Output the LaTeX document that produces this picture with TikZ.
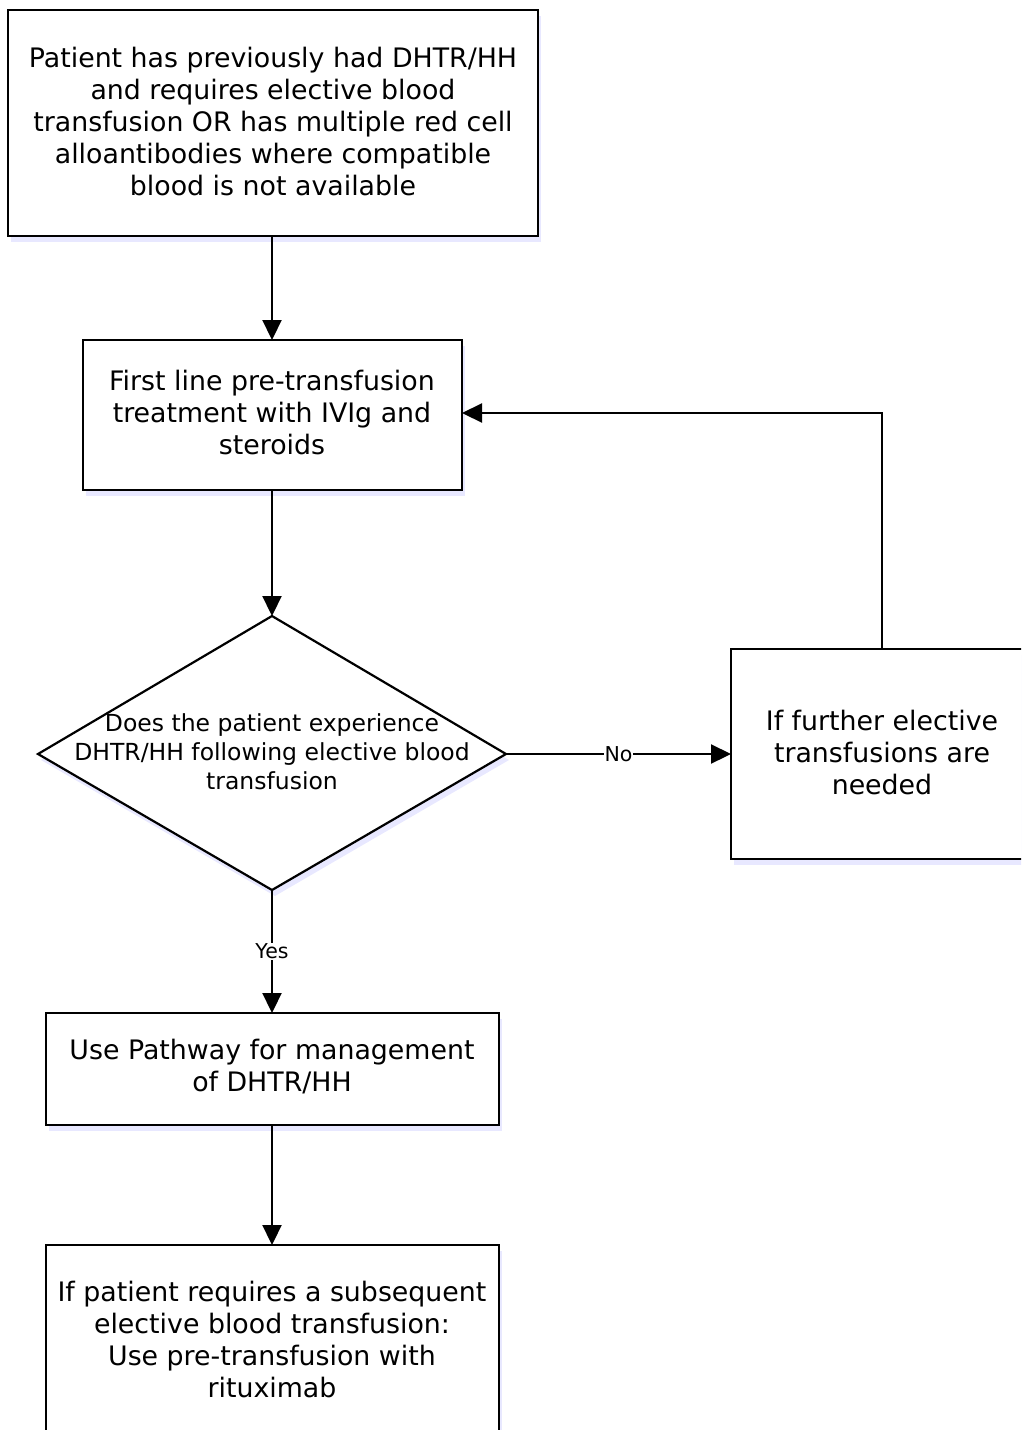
\documentclass[tikz,border=0pt]{standalone}
\usepackage{fontspec}
\setmainfont{DejaVu Sans}
\usetikzlibrary{arrows.meta,shapes.geometric,shadows}
\begin{document}
\begin{tikzpicture}[x=1pt,y=-1pt,
  boxtxt/.style={font=\fontsize{26.8}{32}\selectfont, align=center},
  flowbox/.style={draw=black, line width=2.2pt, fill=white,
     drop shadow={shadow xshift=3pt, shadow yshift=-6pt, fill=blue!20!white, opacity=0.45}},
  conn/.style={line width=2.2pt, -{Triangle[length=20pt,width=19pt]}},
  lbl/.style={font=\fontsize{20.5}{22}\selectfont, fill=white, inner sep=1pt}
]
\useasboundingbox (0,0) rectangle (1021,1430);
\clip (0,0) rectangle (1021,1430);

% shapes
\draw[flowbox] (8,10) rectangle (538,236);
\node[boxtxt] (t1) at (273,122) {Patient has previously had DHTR/HH\\and requires elective blood\\transfusion OR has multiple red cell\\alloantibodies where compatible\\blood is not available};
\coordinate (b1s) at (272,236);

\draw[flowbox] (83,340) rectangle (462,490);
\node[boxtxt] (t2) at (272,413) {First line pre-transfusion\\treatment with IVIg and\\steroids};
\coordinate (b2n) at (272,340);
\coordinate (b2s) at (272,490);
\coordinate (b2e) at (462,413);

\draw[flowbox] (272,616) -- (506,754) -- (272,890) -- (38,754) -- cycle;
\node[align=center, font=\fontsize{23.5}{29}\selectfont] (t3) at (272,752) {Does the patient experience\\DHTR/HH following elective blood\\transfusion};
\coordinate (dn) at (272,616);
\coordinate (de) at (506,754);
\coordinate (ds) at (272,890);

\draw[flowbox] (731,649) rectangle (1035,859);
\node[boxtxt] (t4) at (882,752) {If further elective\\transfusions are\\needed};
\coordinate (b4w) at (731,754);
\coordinate (b4n) at (882,649);

\draw[flowbox] (46,1013) rectangle (499,1125);
\node[boxtxt] (t5) at (272,1067) {Use Pathway for management\\of DHTR/HH};
\coordinate (b5n) at (272,1013);
\coordinate (b5s) at (272,1125);

\draw[flowbox] (46,1245) rectangle (499,1440);
\node[boxtxt] (t6) at (272,1339) {If patient requires a subsequent\\elective blood transfusion:\\Use pre-transfusion with\\rituximab};
\coordinate (b6n) at (272,1245);

% connectors
\draw[conn] (b1s) -- (b2n);
\draw[conn] (b2s) -- (dn);
\draw[conn] (de) -- node[lbl] {No} (b4w);
\draw[conn] (b4n) |- (b2e);
\draw[conn] (ds) -- node[lbl, pos=0.5] {Yes} (b5n);
\draw[conn] (b5s) -- (b6n);
\end{tikzpicture}
\end{document}
